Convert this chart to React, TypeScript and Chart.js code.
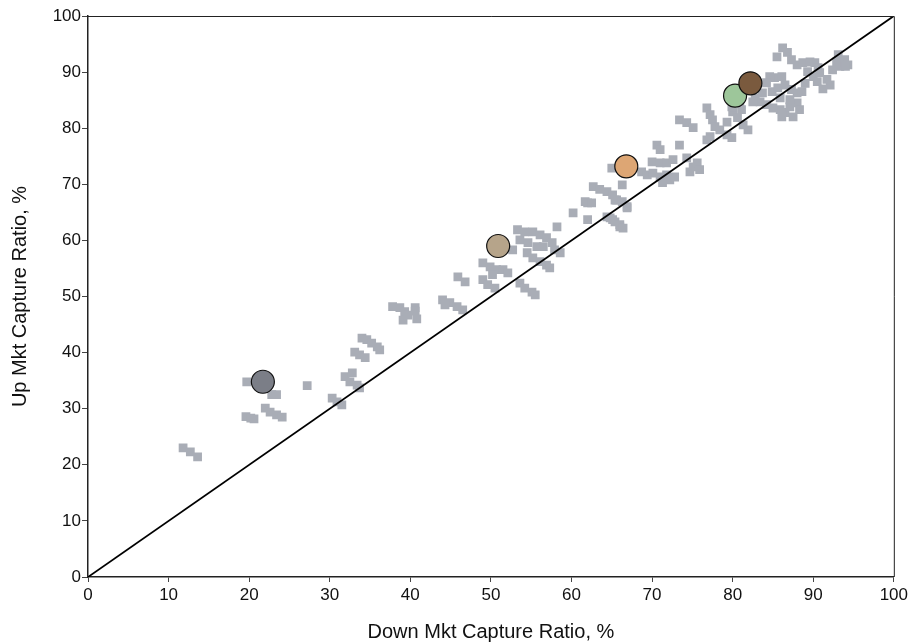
import React, { useEffect, useRef } from 'react';
import { Chart, registerables } from 'chart.js';

Chart.register(...registerables);

const xTitle = 'Down Mkt Capture Ratio, %';
const yTitle = 'Up Mkt Capture Ratio, %';

// peer universe (gray squares): down capture (x) and up capture (y)
const peerDown = [
  11.8, 12.7, 13.6, 19.6, 20.2, 20.6, 19.7, 22.8, 23.4, 22.0, 22.6, 23.4, 24.1, 27.2,
  30.3, 30.9, 31.5, 31.9, 32.8, 32.5, 33.4, 33.7, 33.1, 33.7, 34.4, 34.0, 34.6, 35.2, 35.9, 36.2,
  37.8, 38.7, 39.3, 40.6, 39.1, 40.8, 39.7, 40.6, 44.0, 44.9, 45.8, 46.5, 44.3, 45.9, 46.8,
  49.0, 49.9, 50.7, 51.5, 52.1, 50.2, 49.0, 49.6, 50.5, 53.6, 54.2, 55.1, 55.5,
  53.3, 54.2, 55.2, 56.1, 56.9, 53.6, 54.6, 55.7, 56.5, 57.6, 57.9, 58.6, 54.5, 55.2, 56.1, 56.9, 57.3, 52.7,
  58.2, 60.2, 62.0, 62.0, 64.4, 65.1, 66.0, 66.9, 65.6, 61.7, 62.5,
  62.7, 63.5, 64.4, 65.1, 65.4, 66.3, 66.9, 64.8, 65.4, 66.0, 66.4, 66.3, 65.0,
  68.7, 69.4, 70.1, 71.0, 71.8, 72.2, 72.8, 71.3, 70.6, 71.0, 70.0, 71.0, 71.8, 72.6, 73.4, 74.3, 75.1, 75.6, 74.7, 75.9, 76.8,
  73.4, 74.3, 75.1, 76.8, 77.2, 77.5, 77.8, 77.2, 78.4, 79.3, 79.9, 80.0, 80.6, 81.3, 81.9, 79.3, 79.9,
  82.8, 83.4, 84.2, 85.0, 85.9, 86.5, 87.1, 88.0, 88.3, 84.9, 85.6, 86.5, 87.3, 88.0, 88.6, 85.2, 86.1, 84.6,
  85.5, 86.2, 86.8, 87.3, 88.0, 88.7, 89.6, 90.2, 90.6, 89.3, 90.0, 90.8, 91.7, 92.1, 92.4, 93.3, 93.1, 93.9, 94.3, 92.9,
  84.2, 83.7, 83.0, 85.9, 87.1, 87.5, 86.1, 82.5, 80.9, 81.1, 89.0, 90.5, 91.2, 94.0,
];
const peerUp = [
  23.0, 22.3, 21.4, 28.6, 28.3, 28.2, 34.8, 32.5, 32.5, 30.1, 29.4, 28.9, 28.5, 34.1,
  31.9, 31.2, 30.7, 35.7, 36.4, 34.8, 34.2, 33.7, 40.1, 39.6, 39.1, 42.6, 42.3, 41.7, 41.0, 40.5,
  48.2, 48.0, 47.3, 48.0, 45.8, 46.0, 46.7, 47.4, 49.4, 48.9, 48.2, 47.6, 48.5, 53.5, 52.6,
  56.0, 55.3, 54.8, 54.8, 54.2, 53.9, 53.0, 52.1, 51.5, 52.4, 51.5, 50.8, 50.3,
  61.9, 61.5, 61.5, 61.0, 60.5, 60.1, 59.6, 58.9, 58.9, 59.6, 58.3, 57.8, 57.8, 56.9, 56.2, 55.6, 55.1, 58.3,
  62.4, 64.9, 63.7, 66.7, 64.2, 63.7, 62.4, 66.0, 67.2, 66.9, 66.7,
  69.6, 69.1, 68.7, 68.1, 67.2, 66.9, 65.8, 64.0, 63.3, 62.8, 62.2, 69.9, 72.9,
  72.2, 71.7, 72.0, 71.3, 71.7, 70.8, 71.3, 70.3, 77.0, 76.2, 74.0, 73.8, 73.8, 74.4, 77.0, 74.7, 73.1, 73.8, 72.2, 72.6, 77.9,
  81.5, 81.0, 80.1, 83.6, 82.4, 81.5, 80.3, 78.5, 79.7, 78.8, 78.3, 82.9, 81.9, 80.6, 79.7, 81.1, 83.8,
  85.4, 84.7, 84.2, 83.6, 83.3, 82.8, 83.8, 84.5, 83.3, 86.5, 87.2, 87.7, 86.9, 86.3, 86.5, 89.0, 89.2, 89.2,
  92.7, 94.3, 93.5, 92.2, 91.3, 91.7, 91.8, 91.7, 90.8, 90.1, 89.2, 89.9, 88.7, 87.7, 90.4, 91.0, 93.1, 92.2, 91.3, 91.8,
  88.1, 86.3, 88.1, 85.4, 85.1, 82.0, 82.0, 84.7, 84.7, 83.3, 88.0, 88.3, 87.0, 91.0,
];

// highlighted funds (circles)
const fundDown = [21.7, 50.9, 66.8, 80.3, 82.2];
const fundUp = [34.8, 59.0, 73.2, 85.8, 88.0];
const fundColors = ['#7b7e87', '#b6a48a', '#dda674', '#9dc69a', '#7a5a3e'];

// reference diagonal
const diagX = [0, 100];
const diagY = [0, 100];

const axisMin = 0;
const axisMax = 100;
const tickStep = 10;

const FONT = 'Arial, "Liberation Sans", sans-serif';

const framePlugin = {
  id: 'frame',
  afterDraw(chart: any) {
    const { ctx, chartArea } = chart;
    ctx.save();
    ctx.strokeStyle = '#222';
    ctx.lineWidth = 1;
    ctx.beginPath();
    ctx.moveTo(chartArea.left, chartArea.top + 0.5);
    ctx.lineTo(chartArea.right + 0.5, chartArea.top + 0.5);
    ctx.lineTo(chartArea.right + 0.5, chartArea.bottom);
    ctx.stroke();
    ctx.restore();
  },
};

export default function App() {
  const ref = useRef<HTMLCanvasElement | null>(null);

  useEffect(() => {
    if (!ref.current) return;
    const peers = peerDown.map((x, i) => ({ x, y: peerUp[i] }));
    const funds = fundDown.map((x, i) => ({ x, y: fundUp[i] }));
    const diag = diagX.map((x, i) => ({ x, y: diagY[i] }));

    const chart = new Chart(ref.current, {
      type: 'scatter',
      data: {
        datasets: [
          {
            label: 'Funds',
            data: funds,
            pointStyle: 'circle',
            pointRadius: 11.5,
            pointBackgroundColor: fundColors,
            pointBorderColor: '#111',
            pointBorderWidth: 1.2,
            order: 0,
          } as any,
          {
            label: 'Diagonal',
            type: 'line',
            data: diag,
            borderColor: '#000',
            borderWidth: 1.8,
            pointRadius: 0,
            showLine: true,
            fill: false,
            order: 1,
          } as any,
          {
            label: 'Peers',
            data: peers,
            pointStyle: 'rect',
            pointRadius: 6.2,
            pointBackgroundColor: '#a9adb6',
            pointBorderWidth: 0,
            pointBorderColor: '#a9adb6',
            order: 2,
          } as any,
        ],
      },
      options: {
        responsive: false,
        animation: false,
        layout: { padding: { top: 16, right: 17, left: 0, bottom: 0 } },
        plugins: {
          legend: { display: false },
          tooltip: { enabled: false },
        },
        scales: {
          x: {
            type: 'linear',
            min: axisMin,
            max: axisMax,
            ticks: {
              stepSize: tickStep,
              color: '#111',
              font: { family: FONT, size: 17 },
              padding: 3,
              maxRotation: 0,
            },
            grid: { drawOnChartArea: false, drawTicks: true, tickLength: 5, color: '#444', tickWidth: 1 },
            border: { display: true, color: '#222', width: 1.5 },
            title: {
              display: true,
              text: xTitle,
              color: '#111',
              font: { family: FONT, size: 20 },
              padding: 0,
            },
            afterFit: (s: any) => {
              s.height = 67;
            },
          },
          y: {
            type: 'linear',
            min: axisMin,
            max: axisMax,
            ticks: {
              stepSize: tickStep,
              color: '#111',
              font: { family: FONT, size: 17 },
              padding: 1,
            },
            grid: { drawOnChartArea: false, drawTicks: true, tickLength: 6, color: '#444', tickWidth: 1 },
            border: { display: true, color: '#222', width: 1.5 },
            title: {
              display: true,
              text: yTitle,
              color: '#111',
              font: { family: FONT, size: 20 },
              padding: { top: 8, bottom: 0 },
            },
            afterFit: (s: any) => {
              s.width = 88;
            },
          },
        },
      },
      plugins: [framePlugin],
    });
    return () => chart.destroy();
  }, []);

  return (
    <canvas
      ref={ref}
      width={911}
      height={644}
      style={{ position: 'fixed', left: 0, top: 0, width: 911, height: 644, background: '#fff' }}
    />
  );
}
